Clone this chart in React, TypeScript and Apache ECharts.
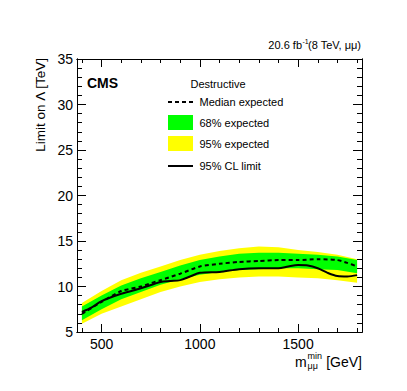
import React, { useEffect, useRef } from "react";
import * as echarts from "echarts";

// ---- data ----
const bandMasses = [400, 500, 600, 700, 800, 900, 1000, 1100, 1200, 1300, 1400, 1500, 1600, 1700, 1800];
const yellowTop = [8.2, 9.5, 10.7, 11.5, 12.2, 12.9, 13.5, 13.9, 14.2, 14.4, 14.3, 14.0, 13.8, 13.5, 13.0];
const greenTop = [7.8, 9.0, 10.1, 10.9, 11.6, 12.3, 12.9, 13.3, 13.6, 13.7, 13.7, 13.6, 13.5, 13.3, 12.9];
const greenBottom = [6.3, 7.5, 8.6, 9.4, 10.2, 10.8, 11.3, 11.6, 11.8, 11.9, 12.0, 12.0, 11.9, 11.8, 11.45];
const yellowBottom = [5.9, 7.0, 7.8, 8.6, 9.4, 10.0, 10.5, 10.8, 11.0, 11.1, 11.1, 11.0, 10.9, 10.7, 10.4];

const medianMasses = [400, 500, 600, 700, 800, 900, 1000, 1100, 1200, 1300, 1400, 1500, 1600, 1700, 1750, 1800];
const medianExpected = [7.0, 8.3, 9.5, 10.0, 10.7, 11.4, 12.2, 12.5, 12.7, 12.8, 12.9, 12.9, 13.0, 12.9, 12.6, 12.2];

const obsMasses = [400, 450, 500, 600, 700, 800, 850, 900, 950, 1000, 1100, 1200, 1300, 1400, 1450, 1500, 1550, 1600, 1650, 1700, 1750, 1800];
const observedLimit = [7.2, 7.7, 8.4, 9.2, 9.8, 10.5, 10.6, 10.7, 11.1, 11.5, 11.6, 11.9, 12.0, 12.0, 12.2, 12.35, 12.3, 12.0, 11.5, 11.15, 11.1, 11.25];

const xMajorTicks = [500, 1000, 1500];
const xMinorTicks = [400, 500, 600, 700, 800, 900, 1000, 1100, 1200, 1300, 1400, 1500, 1600, 1700, 1800];
const X_MIN = 375;
const X_MAX = 1825;
const Y_MIN = 5;
const Y_MAX = 35;

const legendLabels = ["Median expected", "68% expected", "95% expected", "95% CL limit"];

const FONT = "Liberation Sans, Arial, Helvetica, sans-serif";

export default function App() {
  const ref = useRef<HTMLDivElement>(null);

  useEffect(() => {
    if (!ref.current) return;
    const chart = echarts.init(ref.current, undefined, { renderer: "svg" });

    const pair = (xs: number[], ys: number[]) => xs.map((x, i) => [x, ys[i]]);

    const bandSeries = (lo: number[], hi: number[], color: string, z: number) => ({
      type: "custom",
      coordinateSystem: "cartesian2d",
      xAxisIndex: 0,
      yAxisIndex: 0,
      silent: true,
      z,
      clip: true,
      encode: { x: 0, y: [1, 2] },
      data: bandMasses.map((m, i) => [m, lo[i], hi[i]]),
      renderItem: (params: any, api: any) => {
        if (params.dataIndex !== 0) return null;
        const upper = bandMasses.map((m, i) => api.coord([m, hi[i]]));
        const lower = bandMasses.map((m, i) => api.coord([m, lo[i]])).reverse();
        return {
          type: "polygon",
          shape: { points: upper.concat(lower) },
          style: { fill: color, stroke: null },
        };
      },
    });

    const lineStyle = { color: "#000", width: 1 };
    const xAxisBase = (position: string, len: number, ticks: number[], labels: boolean) => ({
      type: "value",
      position,
      min: X_MIN,
      max: X_MAX,
      axisLine: { show: true, onZero: false, lineStyle },
      axisTick: { show: true, inside: true, length: len, lineStyle, customValues: ticks },
      axisLabel: labels
        ? {
            show: true,
            customValues: xMajorTicks,
            formatter: (v: number) => String(v),
            color: "#000",
            fontSize: 14,
            fontFamily: FONT,
            margin: 5,
          }
        : { show: false },
      splitLine: { show: false },
      z: 10,
    });
    const yAxisBase = (position: string, len: number, interval: number, labels: boolean) => ({
      type: "value",
      position,
      min: Y_MIN,
      max: Y_MAX,
      interval,
      axisLine: { show: true, onZero: false, lineStyle },
      axisTick: { show: true, inside: true, length: len, lineStyle },
      axisLabel: labels
        ? { show: true, color: "#000", fontSize: 14, fontFamily: FONT, margin: 4 }
        : { show: false },
      splitLine: { show: false },
      z: 10,
    });

    const legendX0 = 168;
    const legendX1 = 193;
    const legendTextX = 199.5;

    chart.setOption({
      animation: false,
      backgroundColor: "#fff",
      grid: { left: 77, right: 45, top: 59, bottom: 59, containLabel: false },
      xAxis: [
        xAxisBase("bottom", 8, xMajorTicks, true),
        xAxisBase("bottom", 4, xMinorTicks, false),
        xAxisBase("top", 8, xMajorTicks, false),
        xAxisBase("top", 4, xMinorTicks, false),
      ],
      yAxis: [
        yAxisBase("left", 9, 5, true),
        yAxisBase("left", 5, 1, false),
        yAxisBase("right", 9, 5, false),
        yAxisBase("right", 5, 1, false),
      ],
      series: [
        bandSeries(yellowBottom, yellowTop, "#ffff00", 1),
        bandSeries(greenBottom, greenTop, "#00ff00", 2),
        {
          type: "line",
          name: "Median expected",
          data: pair(medianMasses, medianExpected),
          symbol: "none",
          smooth: 0.2,
          lineStyle: { color: "#000", width: 2, type: [4, 3] },
          z: 5,
        },
        {
          type: "line",
          name: "95% CL limit",
          data: pair(obsMasses, observedLimit),
          symbol: "none",
          smooth: 0.3,
          lineStyle: { color: "#000", width: 2 },
          z: 6,
        },
      ],
      graphic: [
        { type: "text", left: 87, top: 76, style: { text: "CMS", font: `bold 14px ${FONT}`, fill: "#000" } },
        {
          type: "text",
          x: 190.5,
          y: 83.5,
          style: { text: "Destructive", font: `11px ${FONT}`, fill: "#000", textVerticalAlign: "middle" },
        },
        {
          type: "line",
          shape: { x1: legendX0, y1: 102, x2: legendX1, y2: 102 },
          style: { stroke: "#000", lineWidth: 2, lineDash: [4, 3] },
        },
        { type: "rect", shape: { x: legendX0, y: 115, width: legendX1 - legendX0, height: 15 }, style: { fill: "#00ff00" } },
        { type: "rect", shape: { x: legendX0, y: 136, width: legendX1 - legendX0, height: 15 }, style: { fill: "#ffff00" } },
        {
          type: "line",
          shape: { x1: legendX0, y1: 166, x2: legendX1, y2: 166 },
          style: { stroke: "#000", lineWidth: 2 },
        },
        ...legendLabels.map((t, i) => ({
          type: "text",
          x: legendTextX,
          y: [102, 122.5, 143.5, 166][i],
          style: { text: t, font: `11px ${FONT}`, fill: "#000", textVerticalAlign: "middle" },
        })),
        // top-right luminosity label
        {
          type: "text",
          x: 302,
          y: 45,
          style: { text: "20.6 fb", font: `11px ${FONT}`, fill: "#000", textAlign: "right", textVerticalAlign: "middle" },
        },
        {
          type: "text",
          x: 302.5,
          y: 41,
          style: { text: "-1", font: `7px ${FONT}`, fill: "#000", textAlign: "left", textVerticalAlign: "middle" },
        },
        {
          type: "text",
          x: 308,
          y: 45,
          style: { text: "(8 TeV, \u03bc\u03bc)", font: `11px ${FONT}`, fill: "#000", textAlign: "left", textVerticalAlign: "middle" },
        },
        // y-axis title
        {
          type: "text",
          x: 40,
          y: 58,
          rotation: Math.PI / 2,
          style: {
            text: "Limit on \u039b [TeV]",
            font: `13.5px ${FONT}`,
            fill: "#000",
            textAlign: "right",
            textVerticalAlign: "middle",
          },
        },
        // x-axis title
        {
          type: "text",
          x: 295,
          y: 362,
          style: { text: "m", font: `14px ${FONT}`, fill: "#000", textVerticalAlign: "middle" },
        },
        {
          type: "text",
          x: 307.5,
          y: 356,
          style: { text: "min", font: `9px ${FONT}`, fill: "#000", textVerticalAlign: "middle" },
        },
        {
          type: "text",
          x: 307.5,
          y: 366,
          style: { text: "\u03bc\u03bc", font: `9px ${FONT}`, fill: "#000", textVerticalAlign: "middle" },
        },
        {
          type: "text",
          x: 362,
          y: 362,
          style: { text: "[GeV]", font: `14px ${FONT}`, fill: "#000", textAlign: "right", textVerticalAlign: "middle" },
        },
      ],
    });

    return () => chart.dispose();
  }, []);

  return <div ref={ref} style={{ width: 407, height: 391, position: "absolute", left: 0, top: 0 }} />;
}
